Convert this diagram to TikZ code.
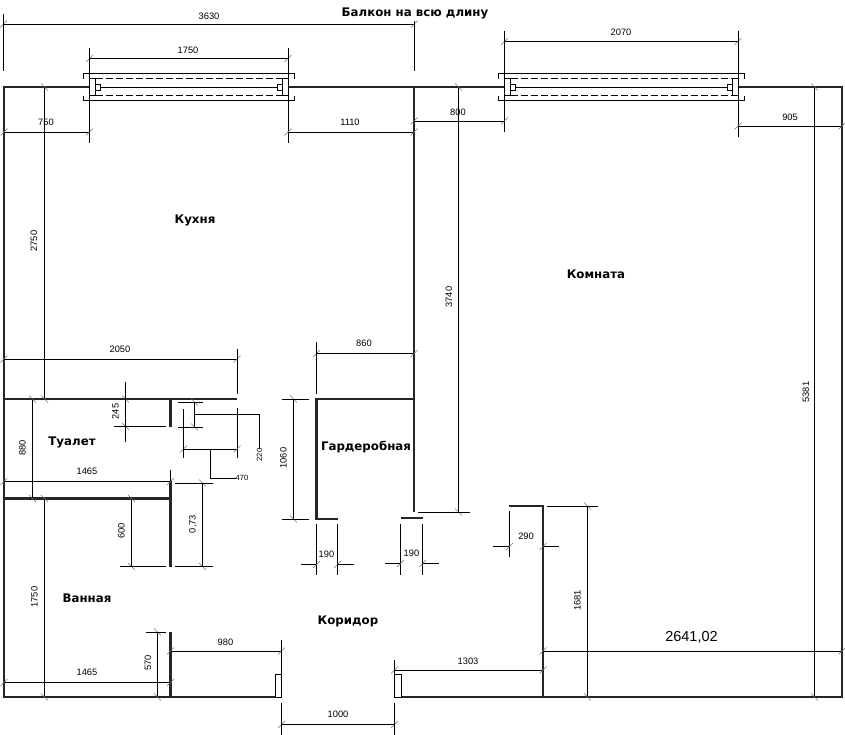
\documentclass[tikz,border=0pt]{standalone}
\usepackage{fontspec}
\setmainfont{Liberation Sans}
\newfontfamily\roomfont{DejaVu Sans}
\tikzset{
  wall/.style={line width=2.2pt, draw=black!85, line cap=butt},
  thinwall/.style={line width=1pt, draw=black},
  dimline/.style={line width=0.9pt, draw=black},
  dimtick/.style={line width=0.5pt, draw=black!55},
  glass/.style={line width=0.9pt, draw=black, dash pattern=on 7pt off 3pt},
  dimlabel/.style={inner sep=0pt, font=\fontsize{9.3}{9.3}\selectfont},
  smalllabel/.style={inner sep=0pt, font=\fontsize{7.6}{7.6}\selectfont},
  roomlabel/.style={inner sep=0pt, font=\roomfont\bfseries\fontsize{11.8}{11.8}\selectfont}
}
% dimension lines: start, end, fixed coordinate
\newcommand{\dimh}[3]{
  \draw[dimline] (#1,#3) -- (#2,#3);
  \draw[dimtick] (#1,#3) ++(-3.5,3.5) -- ++(7,-7);
  \draw[dimtick] (#2,#3) ++(-3.5,3.5) -- ++(7,-7);
}
\newcommand{\dimv}[3]{
  \draw[dimline] (#3,#1) -- (#3,#2);
  \draw[dimtick] (#3,#1) ++(-3.5,-3.5) -- ++(7,7);
  \draw[dimtick] (#3,#2) ++(-3.5,-3.5) -- ++(7,7);
}
% balcony door: left, right
\newcommand{\balconydoor}[2]{
  \draw[thinwall] (#1-6,79) -- (#1-6,73.5) -- (#2+6,73.5) -- (#2+6,79);
  \draw[thinwall] (#1-6,96) -- (#1-6,101) -- (#2+6,101) -- (#2+6,96);
  \draw[glass] (#1+6,78.5) -- (#2-6,78.5);
  \draw[glass] (#1+6,95) -- (#2-6,95);
  \draw[thinwall] (#1+11,87.5) -- (#2-11,87.5);
  \draw[thinwall] (#1,78.5) rectangle (#1+6,95.5);
  \draw[thinwall] (#2-6,78.5) rectangle (#2,95.5);
  \draw[thinwall] (#1+6,84.5) rectangle (#1+11,90.5);
  \draw[thinwall] (#2-11,84.5) rectangle (#2-6,90.5);
}
\begin{document}
\begin{tikzpicture}[x=1pt,y=-1pt]
  \useasboundingbox (0,0) rectangle (845,735);
  % Walls
  \draw[wall] (89.5,87) -- (4,87) -- (4,697) -- (275,697);
  \draw[wall] (288,87) -- (504,87);
  \draw[wall] (738,87) -- (842,87) -- (842,697) -- (401,697);
  \draw[wall] (414,87) -- (414,512);
  \draw[wall] (4,399) -- (237,399);
  \draw[wall] (338,519) -- (316.5,519) -- (316.5,399) -- (414,399);
  \draw[wall] (400.5,518) -- (423,518);
  \draw[wall] (170.5,399) -- (170.5,427);
  \draw[wall] (4,498.5) -- (170.5,498.5);
  \draw[wall] (170.5,481) -- (170.5,567);
  \draw[wall] (170.5,632) -- (170.5,697);
  \draw[wall] (509,506) -- (543,506) -- (543,697);
  % Door jambs
  \draw[thinwall] (275.5,674) rectangle (281.5,697);
  \draw[thinwall] (394.5,674) rectangle (401,697);
  \balconydoor{89.5}{288}
  \balconydoor{504.5}{738}
  % Top dimensions
  \dimh{3.5}{414.5}{24}
  \draw[dimline] (3.5,14) -- (3.5,71);
  \draw[dimline] (414.5,21) -- (414.5,71);
  \dimh{89.5}{288}{58.5}
  \draw[dimline] (89.5,48) -- (89.5,143);
  \draw[dimline] (288,48) -- (288,143);
  \dimh{4}{89.5}{132}
  \dimh{288}{414}{132}
  \dimh{504.5}{738}{41.5}
  \draw[dimline] (504.5,31) -- (504.5,132);
  \draw[dimline] (738,31) -- (738,137);
  \dimh{414}{504.5}{121}
  \dimh{738}{842}{126}
  % Long verticals
  \dimv{87}{399}{44.5}
  \dimv{87}{512}{458.5}
  \draw[dimline] (418,512) -- (470,512);
  \dimv{87}{697}{814.5}
  \dimv{498.5}{697}{44.5}
  % Kitchen and toilet
  \dimh{4}{237}{359}
  \draw[dimline] (237,349) -- (237,394);
  \draw[dimline] (237,408) -- (237,458);
  \dimv{399}{498.5}{32.5}
  \dimv{399}{426.5}{125.5}
  \draw[dimline] (125.5,382) -- (125.5,442);
  \draw[dimline] (114,426.5) -- (166,426.5);
  \dimv{402}{427}{194.5}
  \draw[dimline] (178,402) -- (203,402);
  \draw[dimline] (178,427) -- (203,427);
  \draw[dimline] (194.5,414.5) -- (259,414.5) -- (259,449);
  \dimh{183.5}{237}{449}
  \draw[dimline] (183.5,409) -- (183.5,458);
  \draw[dimline] (210.5,449) -- (210.5,478) -- (236,478);
  \dimh{4}{170.5}{481.5}
  \draw[dimline] (170.5,470) -- (170.5,481);
  % Bath
  \dimv{498.5}{566.5}{131.5}
  \draw[dimline] (120,566.5) -- (166,566.5);
  \dimv{483}{566.5}{202.5}
  \draw[dimline] (175,483) -- (213,483);
  \draw[dimline] (175,566.5) -- (213,566.5);
  \dimv{632}{697}{157.5}
  \draw[dimline] (146,632) -- (166,632);
  \dimh{4}{170.5}{682.5}
  % Bottom
  \dimh{170.5}{281.5}{651}
  \draw[dimline] (281.5,640) -- (281.5,674);
  \dimh{281.5}{394.5}{724.5}
  \draw[dimline] (281.5,703) -- (281.5,735);
  \draw[dimline] (394.5,703) -- (394.5,735);
  \dimh{394.5}{543}{670}
  \draw[dimline] (394.5,660) -- (394.5,674);
  \dimh{543}{842}{651}
  \dimv{506}{697}{587.5}
  \draw[dimline] (547,506) -- (598,506);
  % Wardrobe
  \dimv{399}{519}{293.5}
  \draw[dimline] (282,399) -- (309,399);
  \draw[dimline] (282,519) -- (309,519);
  \dimh{316.5}{414}{353.5}
  \draw[dimline] (316.5,342) -- (316.5,394);
  \foreach \xa/\xb/\ya in {316.5/337.5/564.5, 400.5/422.5/563.5}{
    \draw[dimline] (\xa,524) -- (\xa,575);
    \draw[dimline] (\xb,524) -- (\xb,575);
    \draw[dimline] (\xa-16,\ya) -- (\xa,\ya);
    \draw[dimline] (\xb,\ya) -- (\xb+16,\ya);
    \draw[dimtick] (\xa,\ya) ++(-3.5,3.5) -- ++(7,-7);
    \draw[dimtick] (\xb,\ya) ++(-3.5,3.5) -- ++(7,-7);
  }
  % 290
  \draw[dimline] (509.5,511) -- (509.5,557);
  \draw[dimline] (493,546.5) -- (509.5,546.5);
  \draw[dimline] (543,546.5) -- (559,546.5);
  \draw[dimtick] (509.5,546.5) ++(-3.5,3.5) -- ++(7,-7);
  \draw[dimtick] (543,546.5) ++(-3.5,3.5) -- ++(7,-7);
  % Room names
  \node[roomlabel] (balcony) at (415,13) {Балкон на всю длину};
  \node[roomlabel] (kitchen) at (195,220) {Кухня};
  \node[roomlabel] (room) at (596,274) {Комната};
  \node[roomlabel] (toilet) at (72,442) {Туалет};
  \node[roomlabel] (wardrobe) at (366,447) {Гардеробная};
  \node[roomlabel] (bath) at (87,598) {Ванная};
  \node[roomlabel] (hall) at (348,621) {Коридор};
  % Sizes
  \node[dimlabel] (l3630) at (209,16) {3630};
  \node[dimlabel] (l1750a) at (188,50) {1750};
  \node[dimlabel] (l750) at (46,122) {750};
  \node[dimlabel] (l1110) at (350,122.5) {1110};
  \node[dimlabel] (l800) at (458,112) {800};
  \node[dimlabel] (l2070) at (621,32) {2070};
  \node[dimlabel] (l905) at (790,117) {905};
  \node[dimlabel] (l2050) at (120,349.5) {2050};
  \node[dimlabel] (l860) at (364,343.5) {860};
  \node[dimlabel] (l1465a) at (87,471.5) {1465};
  \node[dimlabel] (l1465b) at (87,672.5) {1465};
  \node[dimlabel] (l980) at (225.5,642) {980};
  \node[dimlabel] (l1000) at (338,714.5) {1000};
  \node[dimlabel] (l1303) at (468,661) {1303};
  \node[dimlabel] (l190a) at (326.5,554.5) {190};
  \node[dimlabel] (l190b) at (411.5,553) {190};
  \node[dimlabel] (l290) at (526,536.5) {290};
  \node[dimlabel, font=\fontsize{14.5}{14.5}\selectfont] (l2641) at (691.5,637) {2641,02};
  \node[smalllabel] (l470) at (242,478) {470};
  \node[smalllabel, rotate=90] (l220) at (259.5,455) {220};
  \node[dimlabel, rotate=90] (l2750) at (34,241) {2750};
  \node[dimlabel, rotate=90] (l3740) at (449,297) {3740};
  \node[dimlabel, rotate=90] (l5381) at (806,392) {5381};
  \node[dimlabel, rotate=90] (l880) at (22.5,448) {880};
  \node[dimlabel, rotate=90] (l245) at (115.5,411.5) {245};
  \node[dimlabel, rotate=90] (l1750b) at (34.5,597) {1750};
  \node[dimlabel, rotate=90] (l600) at (121.5,531) {600};
  \node[dimlabel, rotate=90] (l073) at (193,524) {0,73};
  \node[dimlabel, rotate=90] (l570) at (148,663) {570};
  \node[dimlabel, rotate=90] (l1681) at (577.5,600.5) {1681};
  \node[dimlabel, rotate=90] (l1060) at (283.5,458) {1060};
\end{tikzpicture}
\end{document}
